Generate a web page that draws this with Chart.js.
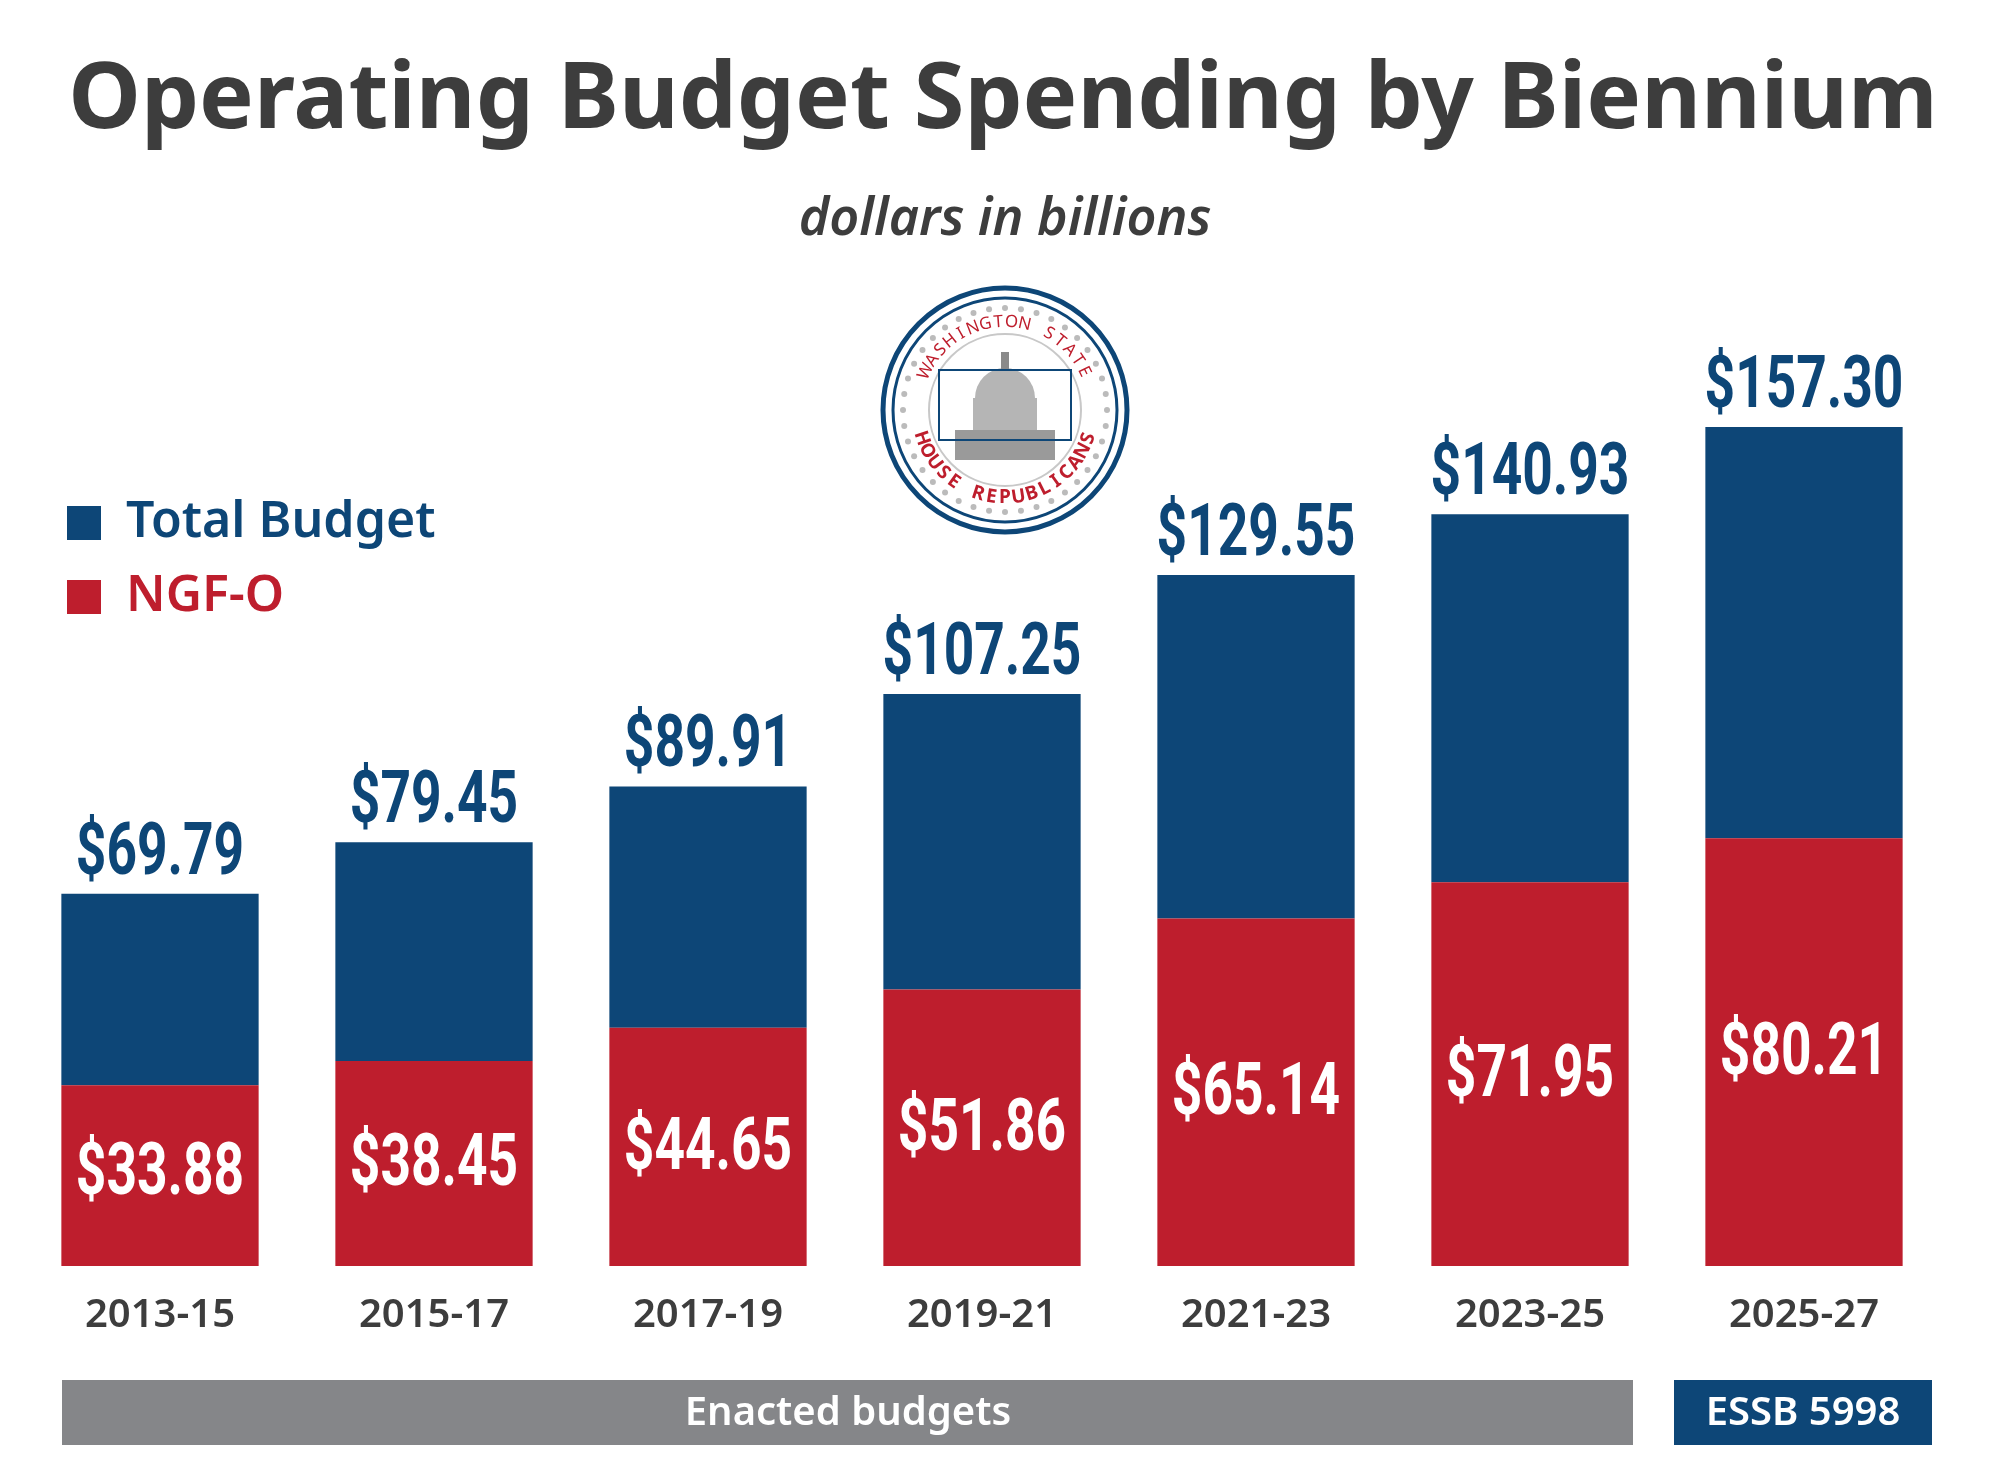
<!DOCTYPE html>
<html>
<head>
<meta charset="utf-8">
<script src="https://cdn.jsdelivr.net/npm/chart.js@4.4.0/dist/chart.umd.min.js"></script>
<style>
  html, body { margin: 0; padding: 0; background: #fff; }
  #wrap { width: 2000px; height: 1466px; }
</style>
</head>
<body>
<div id="wrap"><canvas id="budgetChart" width="2000" height="1466"></canvas></div>
<script>
const biennia = ['2013-15', '2015-17', '2017-19', '2019-21', '2021-23', '2023-25', '2025-27'];
const totalBudget = [69.79, 79.45, 89.91, 107.25, 129.55, 140.93, 157.30];
const ngfo = [33.88, 38.45, 44.65, 51.86, 65.14, 71.95, 80.21];

const BLUE = '#0d4677';
const RED = '#be1e2d';
const GRAY = '#858689';
const TEXT = '#3d3d3d';
const NARROW = '"Roboto", sans-serif';

// blue segment sits on top of the red one
const restOfBudget = totalBudget.map((t, i) => +(t - ngfo[i]).toFixed(2));

function drawArcText(ctx, text, cx, cy, r, startAng, endAng, inside) {
  const n = text.length;
  for (let i = 0; i < n; i++) {
    const a = startAng + (endAng - startAng) * (i + 0.5) / n;
    ctx.save();
    ctx.translate(cx + r * Math.cos(a), cy + r * Math.sin(a));
    ctx.rotate(inside ? a - Math.PI / 2 : a + Math.PI / 2);
    ctx.fillText(text[i], 0, 0);
    ctx.restore();
  }
}

// condensed look: squeeze the text horizontally
function narrowText(ctx, txt, x, y) {
  ctx.save();
  ctx.translate(x, y);
  ctx.scale(0.74, 1);
  ctx.fillText(txt, 0, 0);
  ctx.restore();
}

const decorations = {
  id: 'decorations',
  afterDraw(chart) {
    const ctx = chart.ctx;
    const x = chart.scales.x;
    const y = chart.scales.y;
    ctx.save();

    // title block
    ctx.fillStyle = TEXT;
    ctx.textAlign = 'center';
    ctx.textBaseline = 'middle';
    ctx.font = 'bold 92px "Noto Sans", sans-serif';
    ctx.fillText('Operating Budget Spending by Biennium', 1003, 102);
    ctx.font = 'italic 600 52px "Noto Sans", sans-serif';
    ctx.fillText('dollars in billions', 1005, 220);

    // legend
    ctx.textAlign = 'left';
    ctx.fillStyle = BLUE;
    ctx.fillRect(67, 506, 34, 34);
    ctx.font = '600 50px "Noto Sans", sans-serif';
    ctx.fillText('Total Budget', 126, 523);
    ctx.fillStyle = RED;
    ctx.fillRect(67, 580, 34, 34);
    ctx.fillText('NGF-O', 126, 597);

    // value labels
    ctx.textAlign = 'center';
    ctx.font = 'bold 72px ' + NARROW;
    biennia.forEach((b, i) => {
      const cx = x.getPixelForValue(i);
      ctx.fillStyle = BLUE;
      ctx.textBaseline = 'bottom';
      narrowText(ctx, '$' + totalBudget[i].toFixed(2), cx, y.getPixelForValue(totalBudget[i]) - 2);
      ctx.fillStyle = '#fff';
      ctx.textBaseline = 'middle';
      const mid = y.getPixelForValue(ngfo[i] / 2);
      const lowest = y.getPixelForValue(0) - 90;
      narrowText(ctx, '$' + ngfo[i].toFixed(2), cx, Math.min(mid + 4, lowest));
    });

    // footer bands
    ctx.fillStyle = GRAY;
    ctx.fillRect(62, 1380, 1571, 65);
    ctx.fillStyle = BLUE;
    ctx.fillRect(1674, 1380, 258, 65);
    ctx.fillStyle = '#fff';
    ctx.font = '600 40px "Noto Sans", sans-serif';
    ctx.fillText('Enacted budgets', 848, 1414);
    ctx.fillText('ESSB 5998', 1803, 1414);

    // seal
    const sx = 1005, sy = 410;
    ctx.beginPath(); ctx.arc(sx, sy, 122, 0, Math.PI * 2);
    ctx.fillStyle = '#fff'; ctx.fill();
    ctx.lineWidth = 5; ctx.strokeStyle = BLUE; ctx.stroke();
    ctx.beginPath(); ctx.arc(sx, sy, 112, 0, Math.PI * 2);
    ctx.lineWidth = 3; ctx.stroke();
    ctx.beginPath(); ctx.arc(sx, sy, 76, 0, Math.PI * 2);
    ctx.lineWidth = 2; ctx.strokeStyle = '#c8c8c8'; ctx.stroke();
    ctx.fillStyle = '#bbbbbb';
    for (let k = 0; k < 40; k++) {
      const a = k / 40 * Math.PI * 2;
      ctx.beginPath();
      ctx.arc(sx + 102 * Math.cos(a), sy + 102 * Math.sin(a), 3, 0, Math.PI * 2);
      ctx.fill();
    }
    ctx.fillStyle = RED;
    ctx.font = '17px "Noto Sans", sans-serif';
    drawArcText(ctx, 'WASHINGTON STATE', sx, sy, 88, Math.PI * 1.12, Math.PI * 1.88, false);
    ctx.font = 'bold 19px "Noto Sans", sans-serif';
    drawArcText(ctx, 'SNACILBUPER ESUOH', sx, sy, 88, Math.PI * 0.08, Math.PI * 0.92, true);
    // capitol dome sketch
    ctx.fillStyle = '#9a9a9a';
    ctx.fillRect(sx - 50, sy + 20, 100, 30);
    ctx.fillStyle = '#b5b5b5';
    ctx.fillRect(sx - 32, sy - 12, 64, 32);
    ctx.beginPath(); ctx.arc(sx, sy - 12, 30, Math.PI, 0); ctx.fill();
    ctx.fillStyle = '#8a8a8a';
    ctx.fillRect(sx - 4, sy - 58, 8, 18);
    ctx.strokeStyle = BLUE; ctx.lineWidth = 2;
    ctx.strokeRect(sx - 66, sy - 40, 132, 70);
    ctx.restore();
  }
};

new Chart(document.getElementById('budgetChart'), {
  type: 'bar',
  data: {
    labels: biennia,
    datasets: [
      { label: 'NGF-O', data: ngfo, backgroundColor: RED, barPercentage: 0.72, categoryPercentage: 1 },
      { label: 'Total Budget', data: restOfBudget, backgroundColor: BLUE, barPercentage: 0.72, categoryPercentage: 1 }
    ]
  },
  options: {
    responsive: false,
    animation: false,
    layout: { padding: { left: 23, right: 59, top: 306, bottom: 0 } },
    plugins: { legend: { display: false }, tooltip: { enabled: false } },
    scales: {
      x: {
        stacked: true,
        grid: { display: false },
        border: { display: false },
        ticks: { color: TEXT, font: { family: '"Noto Sans", sans-serif', size: 40, weight: '600' }, padding: 18 },
        afterFit(scale) { scale.height = 200; }
      },
      y: { stacked: true, display: false, min: 0, max: 180 }
    }
  },
  plugins: [decorations]
});
</script>
</body>
</html>
